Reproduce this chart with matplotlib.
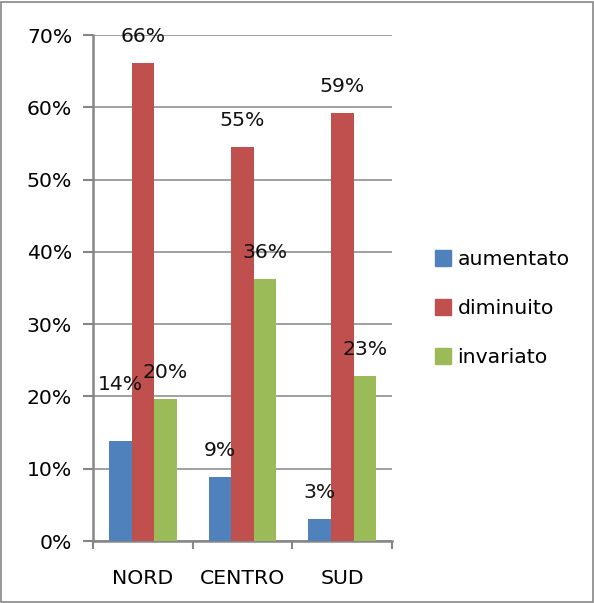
import matplotlib
matplotlib.use("Agg")
import matplotlib.pyplot as plt
import matplotlib.patches as mpatches
import numpy as np
from matplotlib.ticker import FuncFormatter, MultipleLocator

categories = ["NORD", "CENTRO", "SUD"]
series_names = ["aumentato", "diminuito", "invariato"]
aumentato = [0.139, 0.089, 0.031]
diminuito = [0.661, 0.545, 0.592]
invariato = [0.197, 0.363, 0.228]
value_labels = [["14%", "9%", "3%"], ["66%", "55%", "59%"], ["20%", "36%", "23%"]]

colors = ["#4F81BD", "#C0504D", "#9BBB59"]
GRAY = "#868686"

plt.rcParams["font.family"] = ["DejaVu Sans"]

fig = plt.figure(figsize=(5.94, 6.03), dpi=100)
ax = fig.add_axes([0.1566, 0.1028, 0.5034, 0.839])

x = np.arange(len(categories))
bar_w = 0.227
all_series = [aumentato, diminuito, invariato]

for i, (vals, col) in enumerate(zip(all_series, colors)):
    xs = x + (i - 1) * bar_w
    ax.bar(xs, vals, width=bar_w, color=col, zorder=3, label=series_names[i])
    for j, (xx, v) in enumerate(zip(xs, vals)):
        # the NORD "aumentato" label sits higher in the original to dodge the others
        dy = 40 if (i == 0 and j == 0) else 19
        ax.annotate(value_labels[i][j], (xx, v), xytext=(0, dy),
                    textcoords="offset points", ha="center", va="center",
                    fontsize=14.7, color="#111111", zorder=4)

ax.set_xlim(-0.5, 2.5)
ax.set_ylim(0, 0.7)
ax.yaxis.set_major_locator(MultipleLocator(0.1))
ax.yaxis.set_major_formatter(FuncFormatter(lambda v, _: f"{v * 100:.0f}%"))
ax.set_xticks(x)
ax.set_xticklabels(categories)
ax.set_xticks([-0.5, 0.5, 1.5, 2.5], minor=True)
ax.tick_params(axis="x", which="major", length=0, pad=20, labelsize=14.7)
ax.tick_params(axis="x", which="minor", length=6, width=1.5, color=GRAY)
ax.tick_params(axis="y", length=7, width=1.5, color=GRAY, pad=8, labelsize=14.7)

ax.grid(axis="y", color=GRAY, linewidth=1.1, zorder=0)
for side in ["top", "right"]:
    ax.spines[side].set_visible(False)
for side in ["left", "bottom"]:
    ax.spines[side].set_color(GRAY)
    ax.spines[side].set_linewidth(1.8)

handles = [mpatches.Patch(color=c, label=n) for c, n in zip(colors, series_names)]
fig.legend(handles=handles, loc="center left", bbox_to_anchor=(0.715, 0.488),
           frameon=False, fontsize=14.7, handlelength=0.8, handleheight=0.8,
           handletextpad=0.3, labelspacing=1.47, borderpad=0)

fig.patches.append(mpatches.Rectangle((0.002, 0.002), 0.996, 0.995,
                                      transform=fig.transFigure, fill=False,
                                      edgecolor=GRAY, linewidth=1.2))

fig.savefig("out.png", dpi=100)
